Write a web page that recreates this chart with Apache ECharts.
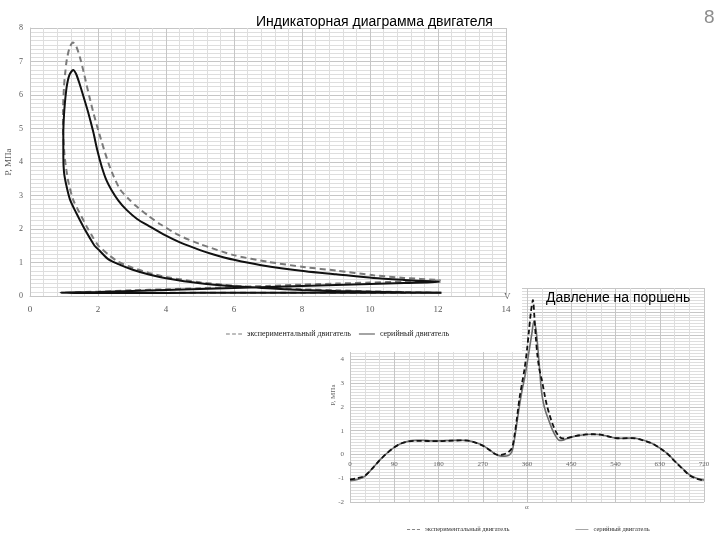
<!DOCTYPE html>
<html><head><meta charset="utf-8">
<script src="https://cdn.jsdelivr.net/npm/echarts@6/dist/echarts.min.js"></script>
<style>
html,body{margin:0;padding:0;background:#fff;}
#c1{position:absolute;left:0;top:0;width:720px;height:540px;}
#c2{position:absolute;left:0;top:0;width:522px;height:352px;background:#fff;}
</style>
</head><body>
<div id="c1"></div><div id="c2"></div>
<script>
// ---------- Indicator diagram (V, P) ----------
const seriesNames = ['экспериментальный двигатель', 'серийный двигатель'];
const serialLoop = [
  [12.1,0.1],[11,0.11],[10,0.13],[9,0.15],[8,0.18],[7,0.23],[6,0.29],[5,0.38],[4,0.53],[3.5,0.64],
  [3.0,0.79],[2.6,0.95],[2.3,1.1],[2.05,1.35],[1.9,1.5],[1.75,1.75],[1.57,2.07],[1.35,2.5],[1.18,2.87],
  [1.07,3.3],[1.0,3.7],[0.98,4.2],[0.98,4.86],[1.0,5.4],[1.03,5.8],[1.08,6.25],[1.16,6.6],[1.27,6.75],
  [1.36,6.62],[1.46,6.33],[1.58,5.93],[1.72,5.45],[1.86,4.9],[1.98,4.35],[2.11,3.86],[2.25,3.45],[2.4,3.16],
  [2.6,2.85],[2.84,2.57],[3.15,2.3],[3.53,2.07],[4.0,1.8],[4.41,1.6],[5.0,1.37],[5.4,1.24],[6.0,1.08],
  [6.8,0.92],[8.1,0.74],[9,0.65],[10.1,0.54],[11,0.48],[12.06,0.42],
  [11,0.39],[10,0.36],[9,0.33],[8,0.3],[7,0.27],[6,0.24],[5,0.21],[4,0.18],[3,0.15],[2,0.12],[0.9,0.1],
  [2,0.09],[4,0.09],[6,0.1],[8,0.1],[10,0.1],[12.1,0.1]
];
const expLoop = [
  [12.1,0.1],[11,0.12],[10,0.14],[9,0.17],[8,0.2],[7,0.25],[6,0.31],[5,0.41],[4,0.57],[3.5,0.69],
  [3.0,0.85],[2.6,1.02],[2.35,1.2],[2.1,1.42],[2.01,1.5],[1.85,1.75],[1.67,2.07],[1.45,2.5],[1.27,2.87],
  [1.13,3.4],[1.05,3.9],[1.0,4.4],[0.97,5.0],[0.97,5.45],[1.0,6.25],[1.04,6.7],[1.08,7.04],[1.16,7.4],
  [1.26,7.57],[1.36,7.45],[1.47,7.12],[1.57,6.72],[1.67,6.28],[1.77,5.85],[1.87,5.45],[1.97,5.08],[2.08,4.7],
  [2.2,4.3],[2.32,3.93],[2.47,3.55],[2.65,3.18],[2.9,2.9],[3.14,2.67],[3.5,2.38],[3.82,2.15],[4.41,1.8],
  [5.0,1.55],[6.0,1.22],[7,1.02],[8.1,0.86],[9,0.76],[10.1,0.62],[11,0.54],[12.06,0.47],
  [11,0.43],[10,0.4],[9,0.37],[8,0.34],[7,0.3],[6,0.27],[5,0.23],[4,0.2],[3,0.17],[2,0.13],[0.9,0.1],
  [4,0.1],[8,0.1],[12.1,0.1]
];

// ---------- Piston pressure vs crank angle ----------
const serialAngle = [0,15,30,45,60,75,90,105,120,135,150,165,180,195,210,225,240,255,270,285,295,305,315,322,
  326,330,335,340,345,350,355,360,365,370,374,378,382,386,389,393,398,405,412,419,426,433,440,460,480,495,510,525,
  540,555,575,590,608,620,635,650,663,677,690,705,720];
const serialPress = [-1.1,-1.05,-0.92,-0.6,-0.25,0.05,0.3,0.47,0.56,0.59,0.59,0.57,0.57,0.58,0.59,0.6,0.58,0.5,0.38,0.18,0.02,-0.06,-0.07,-0.04,
  0.02,0.15,0.7,1.4,2.1,2.7,3.2,3.8,4.45,5.1,5.6,5.3,4.5,3.5,2.75,2.2,1.8,1.4,1.02,0.75,0.59,0.6,0.66,0.78,0.84,0.85,0.83,0.76,
  0.69,0.68,0.69,0.64,0.52,0.4,0.2,-0.05,-0.33,-0.6,-0.85,-1.0,-1.08];
const expAngle = [0,15,30,45,60,75,90,105,120,135,150,165,180,195,210,225,240,255,270,285,295,305,312,318,
  325,330,335,340,345,350,355,360,364,368,372,375,378,381,385,390,395,400,406,412,419,426,433,440,460,480,495,510,525,
  540,555,575,590,608,620,635,650,663,677,690,705,720];
const expPress = [-1.05,-1.0,-0.9,-0.6,-0.25,0.05,0.3,0.47,0.55,0.57,0.57,0.56,0.56,0.57,0.58,0.59,0.58,0.5,0.37,0.17,0.02,-0.02,0.0,0.05,
  0.15,0.3,0.85,1.6,2.4,3.0,3.6,4.4,5.2,6.0,6.5,5.8,4.9,4.2,3.6,3.15,2.6,2.1,1.65,1.28,0.95,0.74,0.67,0.68,0.78,0.84,0.85,0.83,0.76,
  0.69,0.68,0.69,0.63,0.51,0.4,0.2,-0.06,-0.34,-0.62,-0.87,-1.02,-1.1];

const toPairs = (xs, ys) => xs.map((x, i) => [x, ys[i]]);
const serif = 'Liberation Serif';
const sans = 'Liberation Sans';
const major = '#c6c6c6', minor = '#dedede';
const dashIcon = 'path://M0,0h5v1h-5zM8,0h5v1h-5zM16,0h5v1h-5z';
const solidIcon = 'path://M0,0h21v1h-21z';

// Bottom chart (full page, drawn first / behind)
const yMin2 = -2, yMax2 = 7, plotH2 = 214;
const c1 = echarts.init(document.getElementById('c1'));
c1.setOption({
  animation: false,
  title: [
    {text: '8', left: 699, top: 3, textStyle: {fontFamily: sans, fontSize: 19, fontWeight: 'normal', color: '#8c8c8c'}},
    {text: 'Давление на поршень', left: 541, top: 286, textStyle: {fontFamily: sans, fontSize: 14, fontWeight: 'normal', color: '#000'}}
  ],
  grid: {left: 350, top: 288, width: 354, height: plotH2, outerBoundsMode: 'none'},
  legend: {
    left: 402, top: 521, itemWidth: 13, itemHeight: 2, itemGap: 66,
    textStyle: {fontFamily: serif, fontSize: 6.5, color: '#333'},
    data: [{name: seriesNames[0], icon: dashIcon}, {name: seriesNames[1], icon: solidIcon}]
  },
  xAxis: {
    type: 'value', min: 0, max: 720, interval: 90,
    offset: -(0 - yMin2) * plotH2 / (yMax2 - yMin2),
    axisLine: {show: false, onZero: false},
    axisTick: {show: false},
    axisLabel: {color: '#666', fontFamily: serif, fontSize: 7, margin: 6},
    splitLine: {show: true, lineStyle: {color: major}},
    minorTick: {show: false, splitNumber: 3},
    minorSplitLine: {show: true, lineStyle: {color: minor}}
  },
  yAxis: {
    type: 'value', min: yMin2, max: yMax2, interval: 1,
    name: 'P, МПа', nameLocation: 'middle', nameGap: 13, nameRotate: 90, nameMoveOverlap: false,
    nameTextStyle: {fontFamily: serif, fontSize: 7, color: '#666'},
    axisLine: {show: true, lineStyle: {color: major}},
    axisTick: {show: false},
    axisLabel: {color: '#666', fontFamily: serif, fontSize: 7, margin: 6},
    splitLine: {show: true, lineStyle: {color: major}},
    minorTick: {show: false, splitNumber: 8},
    minorSplitLine: {show: true, lineStyle: {color: minor}}
  },
  graphic: [
    {type: 'text', left: 525, top: 504, style: {text: 'α', fontFamily: serif, fontSize: 7, fill: '#666'}}
  ],
  series: [
    {name: seriesNames[1], type: 'line', data: toPairs(serialAngle, serialPress), smooth: 0.3, symbol: 'none',
     itemStyle: {color: '#6e6e6e'}, lineStyle: {color: '#6e6e6e', width: 1.6}},
    {name: seriesNames[0], type: 'line', data: toPairs(expAngle, expPress), smooth: 0.3, symbol: 'none',
     itemStyle: {color: '#111'}, lineStyle: {color: '#111', width: 1.8, type: [5, 3]}}
  ]
});

// Top chart (indicator diagram), drawn on top with white background
const c2 = echarts.init(document.getElementById('c2'));
c2.setOption({
  animation: false,
  title: {text: 'Индикаторная диаграмма двигателя', left: 251, top: 10,
    textStyle: {fontFamily: sans, fontSize: 14, fontWeight: 'normal', color: '#000'}},
  grid: {left: 30, top: 28, width: 476, height: 268, outerBoundsMode: 'none'},
  legend: {
    left: 221, top: 325, itemWidth: 16, itemHeight: 2, itemGap: 8,
    textStyle: {fontFamily: serif, fontSize: 8, color: '#222'},
    data: [{name: seriesNames[0], icon: dashIcon}, {name: seriesNames[1], icon: solidIcon}]
  },
  xAxis: {
    type: 'value', min: 0, max: 14, interval: 2,
    axisLine: {show: true, onZero: false, lineStyle: {color: major}},
    axisTick: {show: false},
    axisLabel: {color: '#595959', fontFamily: serif, fontSize: 9, margin: 9},
    splitLine: {show: true, lineStyle: {color: major}},
    minorTick: {show: false, splitNumber: 5},
    minorSplitLine: {show: true, lineStyle: {color: minor}}
  },
  yAxis: {
    type: 'value', min: 0, max: 8, interval: 1,
    name: 'P, МПа', nameLocation: 'middle', nameGap: 17, nameRotate: 90, nameMoveOverlap: false,
    nameTextStyle: {fontFamily: serif, fontSize: 9, color: '#595959'},
    axisLine: {show: true, lineStyle: {color: major}},
    axisTick: {show: false},
    axisLabel: {color: '#595959', fontFamily: serif, fontSize: 8, margin: 7},
    splitLine: {show: true, lineStyle: {color: major}},
    minorTick: {show: false, splitNumber: 8},
    minorSplitLine: {show: true, lineStyle: {color: minor}}
  },
  graphic: [
    {type: 'text', left: 504, top: 292, style: {text: 'V', fontFamily: serif, fontSize: 9, fill: '#595959'}}
  ],
  series: [
    {name: seriesNames[0], type: 'line', data: expLoop, smooth: 0.25, symbol: 'none',
     itemStyle: {color: '#7a7a7a'}, lineStyle: {color: '#7a7a7a', width: 2, type: [6, 4]}},
    {name: seriesNames[1], type: 'line', data: serialLoop, smooth: 0.25, symbol: 'none',
     itemStyle: {color: '#111'}, lineStyle: {color: '#111', width: 2}}
  ]
});
</script>
</body></html>
